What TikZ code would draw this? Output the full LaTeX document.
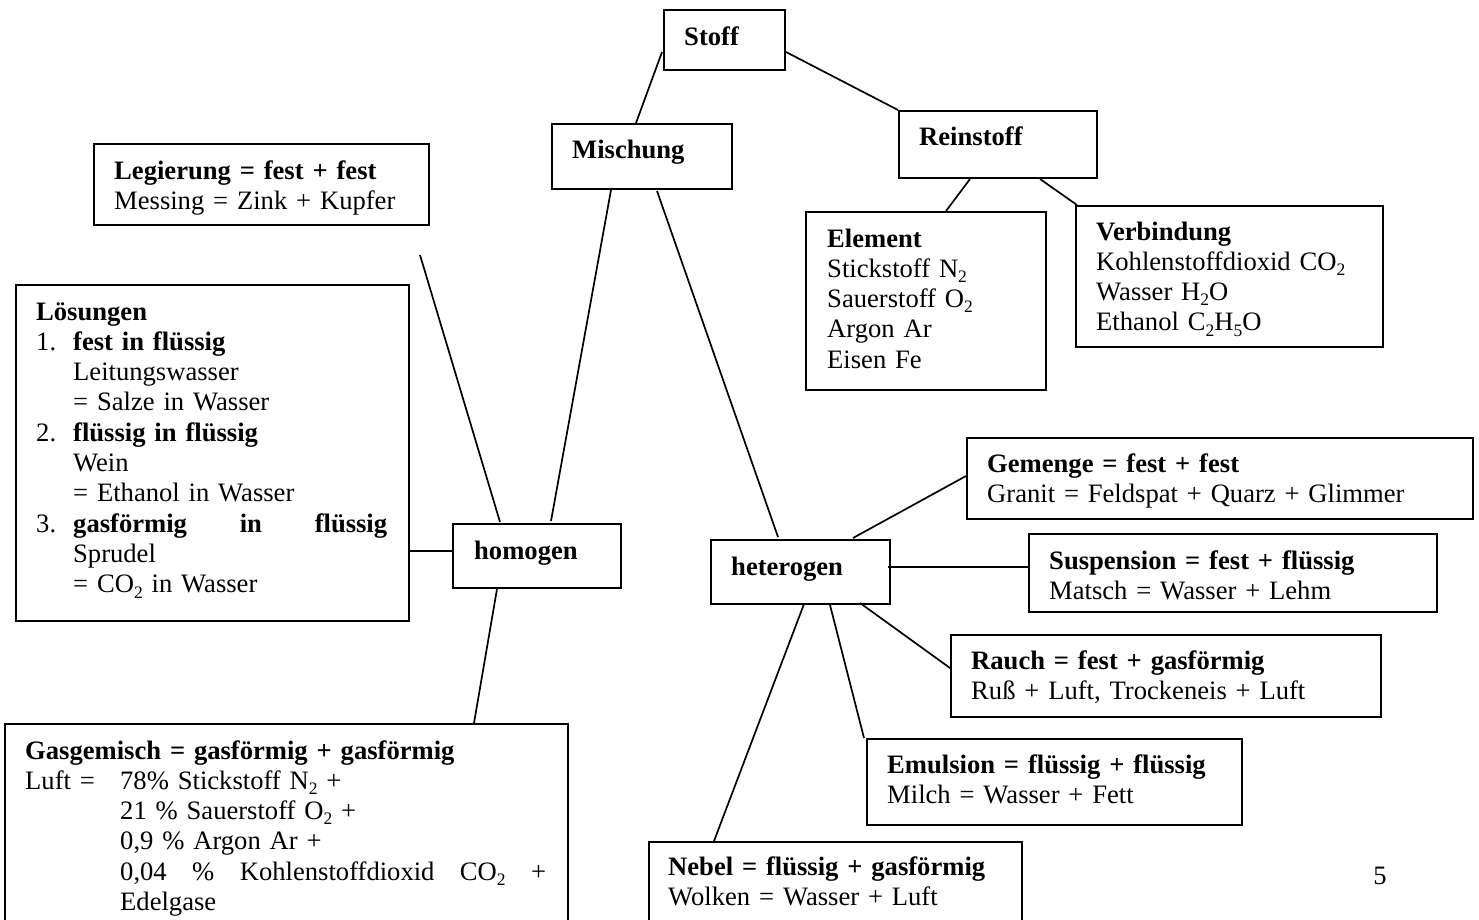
\documentclass[tikz,border=0pt]{standalone}
\usepackage{fontspec}
\setmainfont{Liberation Serif}
\usetikzlibrary{calc}
% chemical index: smaller and lowered
\newcommand\chemsub[1]{\raisebox{-0.2em}{\fontsize{17.5}{18}\selectfont #1}}
\newcommand\bodyfont{\fontsize{26.6}{30.3}\selectfont}
% a line stretched over a given width
\newcommand\fullline[2]{\leavevmode\hbox to #1{#2}}
\tikzset{
  box/.style={draw, line width=2pt, inner sep=0pt, anchor=north west},
  conn/.style={line width=1.7pt},
  label/.style={anchor=base west, inner sep=0pt, font=\bodyfont, align=left},
}
\begin{document}
\begin{tikzpicture}[x=1pt,y=-1pt]
\useasboundingbox (0,0) rectangle (1479,919);
\clip (0,0) rectangle (1479,919);

% ---------- frames ----------
\node[box, minimum width=121pt, minimum height=60pt] (stoff) at (663,9) {};
\node[box, minimum width=180pt, minimum height=65pt] (mischung) at (551,123) {};
\node[box, minimum width=198pt, minimum height=67pt] (reinstoff) at (898,110) {};
\node[box, minimum width=240pt, minimum height=178pt] (element) at (805,211) {};
\node[box, minimum width=307pt, minimum height=141pt] (verbindung) at (1075,205) {};
\node[box, minimum width=335pt, minimum height=81pt] (legierung) at (93,143) {};
\node[box, minimum width=393pt, minimum height=336pt] (loesungen) at (15,284) {};
\node[box, minimum width=168pt, minimum height=64pt] (homogen) at (452,523) {};
\node[box, minimum width=179pt, minimum height=64pt] (heterogen) at (710,539) {};
\node[box, minimum width=506pt, minimum height=81pt] (gemenge) at (966,437) {};
\node[box, minimum width=408pt, minimum height=78pt] (suspension) at (1028,533) {};
\node[box, minimum width=430pt, minimum height=82pt] (rauch) at (950,634) {};
\node[box, minimum width=375pt, minimum height=86pt] (emulsion) at (866,738) {};
\node[box, minimum width=373pt, minimum height=110pt] (nebel) at (648,841) {};
\node[box, minimum width=563pt, minimum height=230pt] (gasgemisch) at (4,723) {};

% ---------- texts ----------
\node[label] (stoffT) at (684,45) {\textbf{Stoff}};
\node[label] (mischungT) at (572,158) {\textbf{Mischung}};
\node[label] (reinstoffT) at (919,145) {\textbf{Reinstoff}};
\node[label, text width=215pt] (elementT) at (827,247)
  {\textbf{Element}\\
   Stickstoff N\chemsub{2}\\
   Sauerstoff O\chemsub{2}\\
   Argon Ar\\
   Eisen Fe};
\node[label, text width=280pt] (verbindungT) at (1096,240)
  {\textbf{Verbindung}\\
   Kohlenstoffdioxid CO\chemsub{2}\\
   Wasser H\chemsub{2}O\\
   Ethanol C\chemsub{2}H\chemsub{5}O};
\node[label, text width=310pt] (legierungT) at (114,179)
  {\textbf{Legierung = fest + fest}\\
   Messing = Zink + Kupfer};
\node[label, text width=352pt] (loesungenT) at (36,320)
  {\textbf{Lösungen}\\
   \makebox[37pt][l]{1.}\textbf{fest in flüssig}\\
   \hspace*{37pt}Leitungswasser\\
   \hspace*{37pt}= Salze in Wasser\\
   \makebox[37pt][l]{2.}\textbf{flüssig in flüssig}\\
   \hspace*{37pt}Wein\\
   \hspace*{37pt}= Ethanol in Wasser\\
   \fullline{351pt}{\makebox[37pt][l]{3.}\textbf{gasförmig}\hfill\textbf{in}\hfill\textbf{flüssig}}\\
   \hspace*{37pt}Sprudel\\
   \hspace*{37pt}= CO\chemsub{2} in Wasser};
\node[label] (homogenT) at (474,559) {\textbf{homogen}};
\node[label] (heterogenT) at (731,575) {\textbf{heterogen}};
\node[label, text width=480pt] (gemengeT) at (987,472)
  {\textbf{Gemenge = fest + fest}\\
   Granit = Feldspat + Quarz + Glimmer};
\node[label, text width=380pt] (suspensionT) at (1049,569)
  {\textbf{Suspension = fest + flüssig}\\
   Matsch = Wasser + Lehm};
\node[label, text width=400pt] (rauchT) at (971,669)
  {\textbf{Rauch = fest + gasförmig}\\
   Ruß + Luft, Trockeneis + Luft};
\node[label, text width=350pt] (emulsionT) at (887,773)
  {\textbf{Emulsion = flüssig + flüssig}\\
   Milch = Wasser + Fett};
\node[label, text width=350pt] (nebelT) at (668,875)
  {\textbf{Nebel = flüssig + gasförmig}\\
   Wolken = Wasser + Luft};
\node[label, text width=522pt] (gasgemischT) at (25,759)
  {\textbf{Gasgemisch = gasförmig + gasförmig}\\
   \makebox[95pt][l]{Luft =}78\% Stickstoff N\chemsub{2} +\\
   \hspace*{95pt}21 \% Sauerstoff O\chemsub{2} +\\
   \hspace*{95pt}0,9 \% Argon Ar +\\
   \fullline{521pt}{\hspace*{95pt}0,04\hfill\%\hfill Kohlenstoffdioxid\hfill CO\chemsub{2}\hfill+}\\
   \hspace*{95pt}Edelgase};
\node[anchor=base, inner sep=0pt, font=\bodyfont] (seite) at (1380,884) {5};

% ---------- connectors ----------
\coordinate (legtail) at ($(legierung.south west)+(327,29)$);
\draw[conn] ($(stoff.north west)+(-1,43)$) -- ($(mischung.north west)+(85,0)$);
\draw[conn] ($(stoff.north east)+(0,43)$) -- (reinstoff.north west);
\draw[conn] ($(reinstoff.south west)+(72,0)$) -- ($(element.north west)+(141,0)$);
\draw[conn] ($(reinstoff.south west)+(142,0)$) -- ($(verbindung.north west)+(2,0)$);
\draw[conn] ($(mischung.south west)+(60,0)$) -- ($(homogen.north west)+(99,-2)$);
\draw[conn] ($(mischung.south west)+(106,1)$) -- ($(heterogen.north west)+(68,-2)$);
\draw[conn] (legtail) -- ($(homogen.north west)+(48,-1)$);
\draw[conn] ($(loesungen.north west)+(393,267)$) -- ($(homogen.north west)+(0,28)$);
\draw[conn] ($(homogen.south west)+(45,0)$) -- ($(gasgemisch.north west)+(470,0)$);
\draw[conn] ($(heterogen.north west)+(143,-1)$) -- ($(gemenge.north west)+(0,39)$);
\draw[conn] ($(heterogen.north east)+(-3,28)$) -- ($(suspension.north west)+(0,34)$);
\draw[conn] ($(heterogen.south west)+(150,-2)$) -- ($(rauch.north west)+(0,34)$);
\draw[conn] ($(heterogen.south west)+(120,0)$) -- ($(emulsion.north west)+(-2,0)$);
\draw[conn] ($(heterogen.south west)+(94,-1)$) -- ($(nebel.north west)+(66,0)$);
\end{tikzpicture}
\end{document}
